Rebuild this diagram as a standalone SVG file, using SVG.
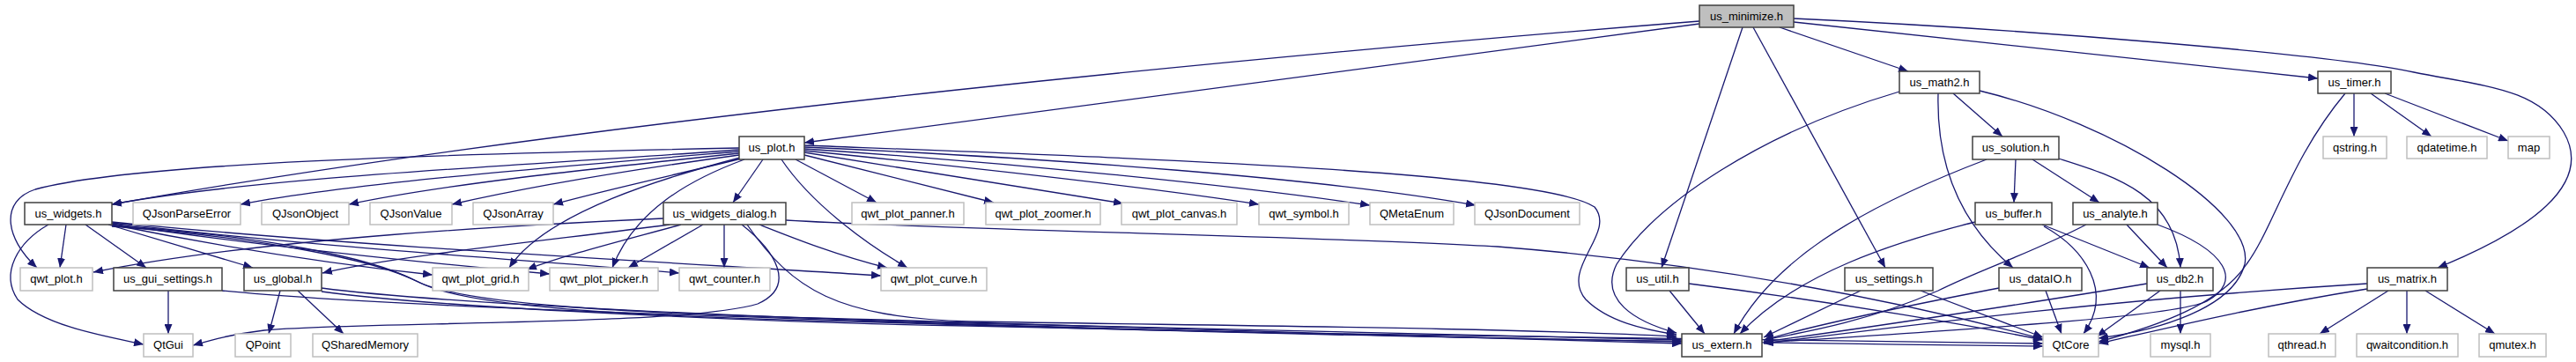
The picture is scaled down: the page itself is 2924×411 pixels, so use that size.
<svg xmlns="http://www.w3.org/2000/svg" width="2924" height="411" viewBox="0 0 2924 411">
<defs>
<marker id="ah" markerWidth="12" markerHeight="9" refX="11" refY="4.5" orient="auto" markerUnits="userSpaceOnUse"><path d="M0,0 L11,4.5 L0,9 z" fill="#191970"/></marker>
<style>
.e{fill:none;stroke:#191970;stroke-width:1.3;marker-end:url(#ah)}
.n rect{fill:#fff;stroke:#404040;stroke-width:1.5}
.x rect{fill:#fff;stroke:#bfbfbf;stroke-width:1.5}
.r rect{fill:#bfbfbf;stroke:#404040;stroke-width:1.5}
text{font-family:"Liberation Sans",Arial,sans-serif;font-size:13px;fill:#000;text-anchor:middle}
</style>
</defs>
<rect width="2924" height="411" fill="#fff"/>
<g id="edges">
<path class="e" d="M1929,27 L913,162"/>
<path class="e" d="M1929,24 C1500,58 700,130 127,232"/>
<path class="e" d="M1978,31 L1886,304"/>
<path class="e" d="M1990,31 L2140,304"/>
<path class="e" d="M2020,31 L2166,81"/>
<path class="e" d="M2036,25 L2631,89"/>
<path class="e" d="M2036,21 C2300,33 2650,62 2740,82 C2820,98 2880,100 2910,150 C2945,210 2870,262 2767,304"/>
<path class="e" d="M839,170 C600,188 300,200 127,232"/>
<path class="e" d="M839,168 C500,175 150,185 40,215 C0,228 5,270 42,304"/>
<path class="e" d="M839,172 C600,192 400,208 273,232"/>
<path class="e" d="M839,174 C650,194 500,210 396,232"/>
<path class="e" d="M839,176 C700,195 600,212 513,232"/>
<path class="e" d="M842,180 C760,200 690,215 628,232"/>
<path class="e" d="M866,181 L832,230"/>
<path class="e" d="M840,179 C760,200 620,240 578,304"/>
<path class="e" d="M845,181 C780,205 720,240 695,304"/>
<path class="e" d="M887,181 C920,230 980,275 1030,304"/>
<path class="e" d="M903,181 L995,230"/>
<path class="e" d="M913,176 C1000,198 1080,218 1128,230"/>
<path class="e" d="M913,173 C1050,195 1180,215 1275,231"/>
<path class="e" d="M913,171 C1100,190 1300,212 1429,232"/>
<path class="e" d="M913,169 C1150,185 1400,210 1555,233"/>
<path class="e" d="M913,167 C1200,180 1500,202 1675,233"/>
<path class="e" d="M913,165 C1300,180 1750,195 1810,235 C1835,265 1770,305 1800,340 C1825,365 1865,374 1903,380"/>
<path class="e" d="M753,248 C600,255 300,270 106,309"/>
<path class="e" d="M760,255 C650,270 450,290 366,310"/>
<path class="e" d="M773,255 C700,275 640,290 598,306"/>
<path class="e" d="M798,255 L713,304"/>
<path class="e" d="M822,255 L822,304"/>
<path class="e" d="M842,255 C880,285 905,325 860,345 C780,370 400,365 300,375 C260,380 240,386 219,392"/>
<path class="e" d="M848,255 C900,330 950,360 1100,365 C1400,370 1700,372 1903,382"/>
<path class="e" d="M862,255 C900,270 950,290 1007,304"/>
<path class="e" d="M892,250 C1100,262 1500,268 1700,280 C1950,300 2150,340 2319,385"/>
<path class="e" d="M75,255 L68,304"/>
<path class="e" d="M55,255 C20,275 0,310 20,340 C50,370 120,382 163,391"/>
<path class="e" d="M97,255 L166,304"/>
<path class="e" d="M123,255 L287,304"/>
<path class="e" d="M127,255 C250,280 380,300 491,312"/>
<path class="e" d="M127,254 C300,280 500,300 624,311"/>
<path class="e" d="M127,253 C350,280 600,295 771,310"/>
<path class="e" d="M127,252 C400,280 800,300 1000,313"/>
<path class="e" d="M127,256 C300,268 420,292 470,318 C520,345 700,356 1000,363 C1400,375 1600,382 1909,390"/>
<path class="e" d="M127,257 C300,270 425,295 475,320 C525,348 700,359 1000,366 C1400,378 1700,386 2319,393"/>
<path class="e" d="M191,330 L191,379"/>
<path class="e" d="M252,330 C400,345 700,355 1000,365 C1400,378 1700,384 1909,388"/>
<path class="e" d="M318,330 L305,379"/>
<path class="e" d="M338,330 L390,379"/>
<path class="e" d="M365,327 C500,345 900,362 1100,367 C1500,376 1700,380 1909,386"/>
<path class="e" d="M365,331 C500,350 900,367 1100,370 C1500,380 1800,385 2319,390"/>
<path class="e" d="M1895,330 L1935,379"/>
<path class="e" d="M1917,322 C2100,345 2250,372 2319,386"/>
<path class="e" d="M2112,330 L2002,383"/>
<path class="e" d="M2180,330 L2319,383"/>
<path class="e" d="M2269,327 C2150,350 2050,372 2002,386"/>
<path class="e" d="M2322,330 L2340,379"/>
<path class="e" d="M2475,330 L2475,379"/>
<path class="e" d="M2437,322 C2300,345 2100,375 2002,388"/>
<path class="e" d="M2452,330 L2380,382"/>
<path class="e" d="M2318,255 L2440,304"/>
<path class="e" d="M2242,252 C2150,275 2040,310 1975,379"/>
<path class="e" d="M2320,257 C2365,282 2400,330 2365,379"/>
<path class="e" d="M2414,255 L2460,304"/>
<path class="e" d="M2368,255 C2300,290 2250,305 2200,330 C2120,365 2050,377 2002,386"/>
<path class="e" d="M2449,255 C2530,285 2545,320 2505,342 C2470,358 2300,370 2002,389"/>
<path class="e" d="M2288,181 L2286,230"/>
<path class="e" d="M2307,181 L2383,230"/>
<path class="e" d="M2337,180 C2400,200 2470,220 2475,304"/>
<path class="e" d="M2255,181 C2100,240 2010,300 1968,379"/>
<path class="e" d="M2217,106 L2273,155"/>
<path class="e" d="M2200,106 C2198,180 2220,250 2285,304"/>
<path class="e" d="M2156,104 C2000,150 1880,230 1835,300 C1815,340 1855,365 1903,378"/>
<path class="e" d="M2247,103 C2400,140 2560,240 2548,300 C2535,350 2450,375 2382,384"/>
<path class="e" d="M2672,106 L2672,155"/>
<path class="e" d="M2691,106 L2760,155"/>
<path class="e" d="M2707,106 L2847,160"/>
<path class="e" d="M2662,106 C2600,180 2580,260 2550,300 C2520,345 2450,370 2382,388"/>
<path class="e" d="M2711,330 L2633,379"/>
<path class="e" d="M2732,330 L2732,379"/>
<path class="e" d="M2753,330 L2832,379"/>
<path class="e" d="M2687,322 C2400,340 2200,365 2002,390"/>
<path class="e" d="M2687,328 C2550,350 2450,375 2382,390"/>
</g>
<g id="n_us_minimize" class="r"><rect x="1929" y="6" width="107" height="25"/><text x="1982.5" y="23">us_minimize.h</text></g>
<g id="n_us_math2" class="n"><rect x="2156" y="81" width="91" height="25"/><text x="2201.5" y="98">us_math2.h</text></g>
<g id="n_us_timer" class="n"><rect x="2631" y="81" width="83" height="25"/><text x="2672.5" y="98">us_timer.h</text></g>
<g id="n_us_plot" class="n"><rect x="839" y="155" width="74" height="26"/><text x="876" y="172">us_plot.h</text></g>
<g id="n_us_solution" class="n"><rect x="2239" y="155" width="98" height="26"/><text x="2288" y="172">us_solution.h</text></g>
<g id="n_qstring" class="x"><rect x="2637" y="155" width="72" height="25"/><text x="2673" y="172">qstring.h</text></g>
<g id="n_qdatetime" class="x"><rect x="2732" y="155" width="91" height="25"/><text x="2777.5" y="172">qdatetime.h</text></g>
<g id="n_map" class="x"><rect x="2847" y="155" width="47" height="25"/><text x="2870.5" y="172">map</text></g>
<g id="n_us_widgets" class="n"><rect x="28" y="230" width="99" height="25"/><text x="77.5" y="247">us_widgets.h</text></g>
<g id="n_QJsonParseError" class="x"><rect x="151" y="230" width="122" height="25"/><text x="212" y="247">QJsonParseError</text></g>
<g id="n_QJsonObject" class="x"><rect x="297" y="230" width="99" height="25"/><text x="346.5" y="247">QJsonObject</text></g>
<g id="n_QJsonValue" class="x"><rect x="420" y="230" width="93" height="25"/><text x="466.5" y="247">QJsonValue</text></g>
<g id="n_QJsonArray" class="x"><rect x="537" y="230" width="91" height="25"/><text x="582.5" y="247">QJsonArray</text></g>
<g id="n_us_widgets_dialog" class="n"><rect x="753" y="230" width="139" height="25"/><text x="822.5" y="247">us_widgets_dialog.h</text></g>
<g id="n_qwt_plot_panner" class="x"><rect x="967" y="230" width="127" height="25"/><text x="1030.5" y="247">qwt_plot_panner.h</text></g>
<g id="n_qwt_plot_zoomer" class="x"><rect x="1119" y="230" width="130" height="25"/><text x="1184" y="247">qwt_plot_zoomer.h</text></g>
<g id="n_qwt_plot_canvas" class="x"><rect x="1273" y="230" width="131" height="25"/><text x="1338.5" y="247">qwt_plot_canvas.h</text></g>
<g id="n_qwt_symbol" class="x"><rect x="1429" y="230" width="102" height="25"/><text x="1480" y="247">qwt_symbol.h</text></g>
<g id="n_QMetaEnum" class="x"><rect x="1555" y="230" width="95" height="25"/><text x="1602.5" y="247">QMetaEnum</text></g>
<g id="n_QJsonDocument" class="x"><rect x="1674" y="230" width="119" height="25"/><text x="1733.5" y="247">QJsonDocument</text></g>
<g id="n_us_buffer" class="n"><rect x="2242" y="230" width="87" height="25"/><text x="2285.5" y="247">us_buffer.h</text></g>
<g id="n_us_analyte" class="n"><rect x="2353" y="230" width="96" height="25"/><text x="2401" y="247">us_analyte.h</text></g>
<g id="n_qwt_plot" class="x"><rect x="23" y="304" width="82" height="26"/><text x="64" y="321">qwt_plot.h</text></g>
<g id="n_us_gui_settings" class="n"><rect x="129" y="304" width="123" height="26"/><text x="190.5" y="321">us_gui_settings.h</text></g>
<g id="n_us_global" class="n"><rect x="277" y="304" width="88" height="26"/><text x="321" y="321">us_global.h</text></g>
<g id="n_qwt_plot_grid" class="x"><rect x="491" y="304" width="109" height="26"/><text x="545.5" y="321">qwt_plot_grid.h</text></g>
<g id="n_qwt_plot_picker" class="x"><rect x="624" y="304" width="123" height="26"/><text x="685.5" y="321">qwt_plot_picker.h</text></g>
<g id="n_qwt_counter" class="x"><rect x="771" y="304" width="103" height="26"/><text x="822.5" y="321">qwt_counter.h</text></g>
<g id="n_qwt_plot_curve" class="x"><rect x="1000" y="304" width="120" height="26"/><text x="1060" y="321">qwt_plot_curve.h</text></g>
<g id="n_us_util" class="n"><rect x="1846" y="304" width="71" height="26"/><text x="1881.5" y="321">us_util.h</text></g>
<g id="n_us_settings" class="n"><rect x="2094" y="304" width="100" height="26"/><text x="2144" y="321">us_settings.h</text></g>
<g id="n_us_dataIO" class="n"><rect x="2269" y="304" width="94" height="26"/><text x="2316" y="321">us_dataIO.h</text></g>
<g id="n_us_db2" class="n"><rect x="2437" y="304" width="75" height="26"/><text x="2474.5" y="321">us_db2.h</text></g>
<g id="n_us_matrix" class="n"><rect x="2687" y="304" width="91" height="26"/><text x="2732.5" y="321">us_matrix.h</text></g>
<g id="n_QtGui" class="x"><rect x="163" y="379" width="56" height="26"/><text x="191" y="396">QtGui</text></g>
<g id="n_QPoint" class="x"><rect x="267" y="379" width="63" height="26"/><text x="298.5" y="396">QPoint</text></g>
<g id="n_QSharedMemory" class="x"><rect x="355" y="379" width="119" height="26"/><text x="414.5" y="396">QSharedMemory</text></g>
<g id="n_us_extern" class="n"><rect x="1909" y="379" width="91" height="26"/><text x="1954.5" y="396">us_extern.h</text></g>
<g id="n_QtCore" class="x"><rect x="2319" y="379" width="63" height="26"/><text x="2350.5" y="396">QtCore</text></g>
<g id="n_mysql" class="x"><rect x="2441" y="379" width="68" height="26"/><text x="2475" y="396">mysql.h</text></g>
<g id="n_qthread" class="x"><rect x="2575" y="379" width="76" height="26"/><text x="2613" y="396">qthread.h</text></g>
<g id="n_qwaitcondition" class="x"><rect x="2675" y="379" width="115" height="26"/><text x="2732.5" y="396">qwaitcondition.h</text></g>
<g id="n_qmutex" class="x"><rect x="2814" y="379" width="76" height="26"/><text x="2852" y="396">qmutex.h</text></g>
</svg>
